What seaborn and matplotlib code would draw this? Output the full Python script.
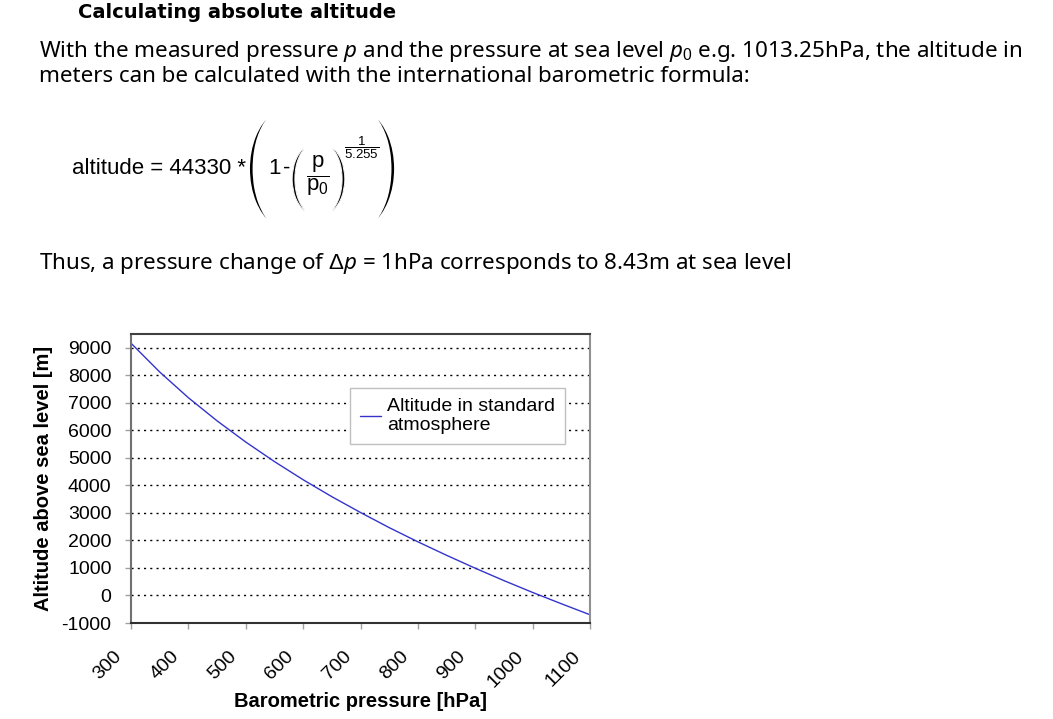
import numpy as np
import pandas as pd
import seaborn as sns
import matplotlib.pyplot as plt
import matplotlib.patheffects as pe
from matplotlib.transforms import ScaledTranslation

# pressure [hPa] and altitude [m]
pressure = [300, 350, 400, 450, 500, 550, 600, 650, 700, 750, 800, 850, 900, 950, 1000, 1050, 1100]
altitude = [9165, 8120, 7185, 6345, 5575, 4865, 4205, 3590, 3015, 2465, 1950, 1460, 990, 540, 110, -300, -700]
x_ticks = [300, 400, 500, 600, 700, 800, 900, 1000, 1100]
y_ticks = [-1000, 0, 1000, 2000, 3000, 4000, 5000, 6000, 7000, 8000, 9000]

df = pd.DataFrame({'pressure': pressure, 'altitude': altitude})

sns.set_style("white")
plt.rcParams['font.family'] = ['Liberation Sans', 'DejaVu Sans']
plt.rcParams['text.color'] = 'black'
plt.rcParams['axes.labelcolor'] = 'black'
plt.rcParams['xtick.color'] = 'black'
plt.rcParams['ytick.color'] = 'black'
plt.rcParams['mathtext.fontset'] = 'custom'
plt.rcParams['mathtext.rm'] = 'Liberation Sans'
plt.rcParams['mathtext.it'] = 'Noto Sans:italic'
plt.rcParams['mathtext.bf'] = 'Liberation Sans:bold'

W, H = 1053, 719
fig = plt.figure(figsize=(W / 100, H / 100), dpi=100)


def px(x, y):
    return x / W, 1 - y / H


page_font = 'Noto Sans'

# page text above the chart
fig.text(*px(78, 13), "Calculating absolute altitude", fontsize=14, fontweight='bold',
         family='DejaVu Sans', va='center', ha='left')
fig.text(*px(39, 52), "With the measured pressure $p$ and the pressure at sea level $p_0$ e.g. "
         "1013.25hPa, the altitude in", fontsize=16.1, family=page_font, va='center', ha='left')
fig.text(*px(39, 77), "meters can be calculated with the international barometric formula:",
         fontsize=16.1, family=page_font, va='center', ha='left')

# barometric formula, built from pieces so the brackets can be tall
# (a thin white stroke over the bracket glyphs makes them lighter, like in the datasheet)
thin_big = [pe.Normal(), pe.Stroke(linewidth=1.5, foreground='white')]
thin_small = [pe.Normal(), pe.Stroke(linewidth=0.7, foreground='white')]
fig.text(*px(72, 168), "altitude = 44330 *", fontsize=16, va='center', ha='left')
fig.text(*px(259, 169), "(", family='STIXSizeFourSym', fontsize=26, va='center', ha='center',
         path_effects=thin_big)
fig.text(*px(385, 169), ")", family='STIXSizeFourSym', fontsize=26, va='center', ha='center',
         path_effects=thin_big)
fig.text(*px(275, 168), "1", fontsize=16, va='center', ha='center')
fig.text(*px(287, 168), "-", fontsize=16, va='center', ha='center')
fig.text(*px(298, 179), "(", family='STIXSizeFourSym', fontsize=15, va='center', ha='center',
         path_effects=thin_small)
fig.text(*px(339, 179), ")", family='STIXSizeFourSym', fontsize=15, va='center', ha='center',
         path_effects=thin_small)
fig.text(*px(318, 176), r'$\dfrac{\mathrm{p}}{\mathrm{p}_0}$', fontsize=16, va='center', ha='center')
fig.text(*px(362, 148), r'$\dfrac{1}{5.255}$', fontsize=9.5, va='center', ha='center')

fig.text(*px(39, 263), r"Thus, a pressure change of $\Delta p$ = 1hPa corresponds to 8.43m at sea level",
         fontsize=16.1, family=page_font, va='center', ha='left')

# chart
ax = fig.add_axes([131 / W, 96 / H, 459 / W, 289 / H])
sns.lineplot(data=df, x='pressure', y='altitude', ax=ax, color='#3434cc', linewidth=1,
             label='Altitude in standard\natmosphere')

ax.set_xlim(300, 1100)
ax.set_ylim(-1000, 9500)
ax.set_xticks(x_ticks)
ax.set_yticks(y_ticks)
ax.set_xticklabels([str(t) for t in x_ticks], rotation=45, ha='right', va='top', fontsize=14)
ax.set_yticklabels([str(t) for t in y_ticks], fontsize=14)
ax.tick_params(axis='x', length=4, width=1, color='#a0a0a0', pad=14, direction='out', bottom=True)
ax.tick_params(axis='y', length=4, width=1, color='#a0a0a0', pad=10, direction='out', left=True)

# shift rotated labels a bit left, like the reference
shift = ScaledTranslation(-6 / 100, 0, fig.dpi_scale_trans)
for lab in ax.get_xticklabels():
    lab.set_transform(lab.get_transform() + shift)

for t in y_ticks[1:]:
    ax.axhline(t, color='black', linestyle=(0, (1.5, 3)), linewidth=1, zorder=0)

ax.spines['top'].set_color('#404040')
ax.spines['right'].set_color('#909090')
ax.spines['left'].set_color('#707070')
ax.spines['bottom'].set_color('#303030')
for side in ['top', 'right', 'left', 'bottom']:
    ax.spines[side].set_linewidth(1.5)

ax.set_xlabel('Barometric pressure [hPa]', fontsize=14.5, fontweight='bold', labelpad=1)
ax.set_ylabel('Altitude above sea level [m]', fontsize=14.5, fontweight='bold', labelpad=6)

leg = ax.legend(loc='upper left', bbox_to_anchor=(219 / 459, 1 - 54 / 289), fontsize=14,
                frameon=True, fancybox=False, framealpha=1, edgecolor='#c0c0c0',
                borderaxespad=0, handlelength=1.1, handletextpad=0.3, borderpad=0.5,
                labelspacing=0.2)
leg.get_frame().set_linewidth(1)

fig.savefig('out.png', dpi=100)
